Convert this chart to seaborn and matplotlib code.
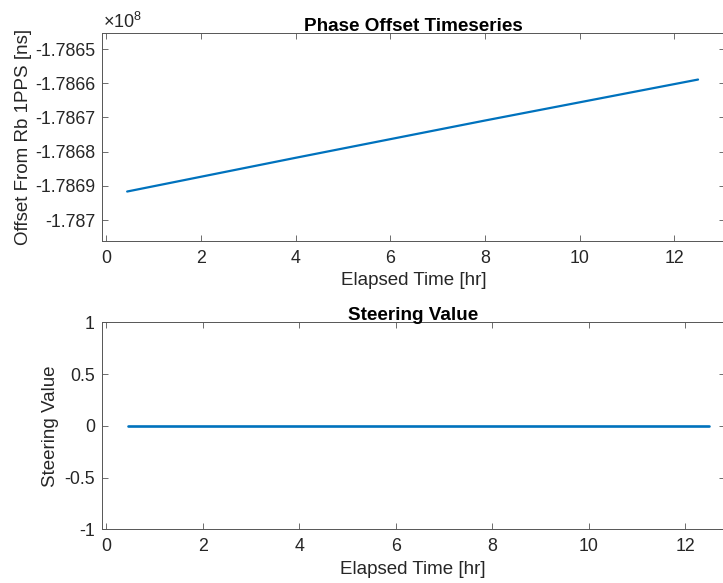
import matplotlib
matplotlib.use("Agg")
import matplotlib.pyplot as plt
import seaborn as sns
import pandas as pd
from matplotlib.ticker import FuncFormatter, FixedLocator

# ---- data ----
phase_time_hr = [0.44, 4.0, 8.0, 12.50]
phase_offset_ns = [-178691667, -178681800, -178670900, -178658918]

steer_time_hr = [0.46, 12.49]
steer_value = [0.0, 0.0]

x_ticks = [0, 2, 4, 6, 8, 10, 12]
phase_y_ticks = [-1.7865e8, -1.7866e8, -1.7867e8, -1.7868e8, -1.7869e8, -1.787e8]
steer_y_ticks = [-1, -0.5, 0, 0.5, 1]

sns.set_theme(style="white")
plt.rcParams["font.family"] = ["Liberation Sans", "DejaVu Sans"]
plt.rcParams["mathtext.fontset"] = "custom"
plt.rcParams["mathtext.rm"] = "Liberation Sans"
plt.rcParams["mathtext.it"] = "Liberation Sans"

BLUE = "#0072BD"
TXT = "#262626"
SPINE = "#555555"
TICK_FS = 12.8
LAB_FS = 13.5
TITLE_FS = 13.6

fig = plt.figure(figsize=(7.23, 5.83), dpi=100)
ax1 = fig.add_axes([0.1411, 0.5871, 0.8617, 0.3557])
ax2 = fig.add_axes([0.1407, 0.0921, 0.8617, 0.3551])

df1 = pd.DataFrame({"t": phase_time_hr, "v": phase_offset_ns})
df2 = pd.DataFrame({"t": steer_time_hr, "v": steer_value})

sns.lineplot(data=df1, x="t", y="v", ax=ax1, color=BLUE, linewidth=1.6)
sns.lineplot(data=df2, x="t", y="v", ax=ax2, color=BLUE, linewidth=1.9)

def style(ax):
    for s in ax.spines.values():
        s.set_color(SPINE)
        s.set_linewidth(0.7)
        s.set_visible(True)
    ax.tick_params(direction="in", length=4, width=0.6, color=SPINE,
                   top=True, right=True, bottom=True, left=True,
                   labelsize=TICK_FS, labelcolor=TXT)
    ax.tick_params(axis="x", pad=6.5)
    ax.tick_params(axis="y", pad=5)
    ax.set_xticks(x_ticks)
    ax.set_xticklabels([str(v) for v in x_ticks])

style(ax1)
style(ax2)

ax1.set_xlim(-0.091, 13.07)
ax1.set_ylim(-178706053, -178645409)
ax1.yaxis.set_major_locator(FixedLocator(phase_y_ticks))
ax1.yaxis.set_major_formatter(FuncFormatter(lambda v, p: f"{v/1e8:.5g}"))
ax1.set_title("Phase Offset Timeseries", fontsize=TITLE_FS, fontweight="bold", color="black", pad=2)
ax1.set_xlabel("Elapsed Time [hr]", fontsize=LAB_FS, color=TXT, labelpad=4)
ax1.set_ylabel("Offset From Rb 1PPS [ns]", fontsize=LAB_FS, color=TXT)
ax1.yaxis.set_label_coords(-0.112, 0.5)
ax1.text(0.002, 1.026, r"$\times10^{8}$", transform=ax1.transAxes,
         ha="left", va="baseline", fontsize=13, color=TXT)

ax2.set_xlim(-0.095, 12.82)
ax2.set_ylim(-1, 1)
ax2.set_yticks(steer_y_ticks)
ax2.set_yticklabels(["-1", "-0.5", "0", "0.5", "1"])
ax2.set_title("Steering Value", fontsize=TITLE_FS, fontweight="bold", color="black", pad=2)
ax2.set_xlabel("Elapsed Time [hr]", fontsize=LAB_FS, color=TXT, labelpad=4)
ax2.set_ylabel("Steering Value", fontsize=LAB_FS, color=TXT)
ax2.yaxis.set_label_coords(-0.068, 0.5)

fig.savefig("out.png", dpi=100)
